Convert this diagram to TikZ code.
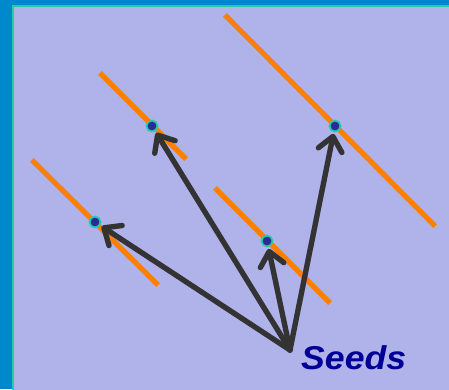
\documentclass[tikz,border=0pt]{standalone}
\usepackage{fontspec}
\usepackage{graphicx}
\setmainfont{Liberation Sans}
\usetikzlibrary{arrows.meta}
\definecolor{outerblue}{HTML}{0088CC}
\definecolor{lav}{HTML}{B0B2EA}
\definecolor{tealb}{HTML}{22CCAA}
\definecolor{orangeL}{HTML}{FF8000}
\definecolor{arrowgray}{HTML}{333333}
\definecolor{seedblue}{HTML}{2A2A9A}
\definecolor{textblue}{HTML}{000099}
\definecolor{shadowc}{HTML}{8486C4}
\begin{document}
\begin{tikzpicture}[x=1pt,y=-1pt,
  fiber/.style={orangeL, line width=5pt},
  fibershadow/.style={shadowc, line width=5pt, opacity=0.6},
  seed/.style={circle, fill=seedblue, draw=tealb, line width=1.8pt, minimum size=11pt, inner sep=0pt},
  ray/.style={arrowgray, line width=5.3pt, line cap=round, line join=round,
    -{Straight Barb[length=14pt,width=24pt,line cap=round,line join=round]}, shorten >=8pt},
  rayshadow/.style={ray, shadowc, opacity=0.6}]
\useasboundingbox (0,0) rectangle (449,389);
\fill[outerblue] (0,0) rectangle (449,389);
\fill[lav] (13,6) rectangle (452,392);
\draw[tealb, line width=2pt] (13,392) -- (13,6) -- (452,6);
% fibers
\coordinate (a1) at (32,160); \coordinate (b1) at (158,285);
\coordinate (a2) at (100,73); \coordinate (b2) at (186,159);
\coordinate (a3) at (215,188); \coordinate (b3) at (330,303);
\coordinate (a4) at (225,15); \coordinate (b4) at (435,226);
\coordinate (src) at (290,350);
\begin{scope}[shift={(2,2)}]
\foreach \i in {1,...,4} \draw[fibershadow] (a\i) -- (b\i);
\end{scope}
\foreach \i in {1,...,4} \draw[fiber] (a\i) -- (b\i);
% seeds
\node[seed] (s1) at (95,222) {};
\node[seed] (s2) at (152,126) {};
\node[seed] (s3) at (267,241) {};
\node[seed] (s4) at (335,126) {};
% arrows
\begin{scope}[shift={(2,2)}]
\foreach \i in {1,...,4} \draw[rayshadow] (src) -- (s\i.center);
\end{scope}
\foreach \i in {1,...,4} \draw[ray] (src) -- (s\i.center);
\node[textblue, font=\bfseries\itshape\fontsize{33}{38}\selectfont, anchor=base west, inner sep=0pt] (lbl) at (301,369) {\scalebox{1.08}[1]{Seeds}};
\end{tikzpicture}
\end{document}
